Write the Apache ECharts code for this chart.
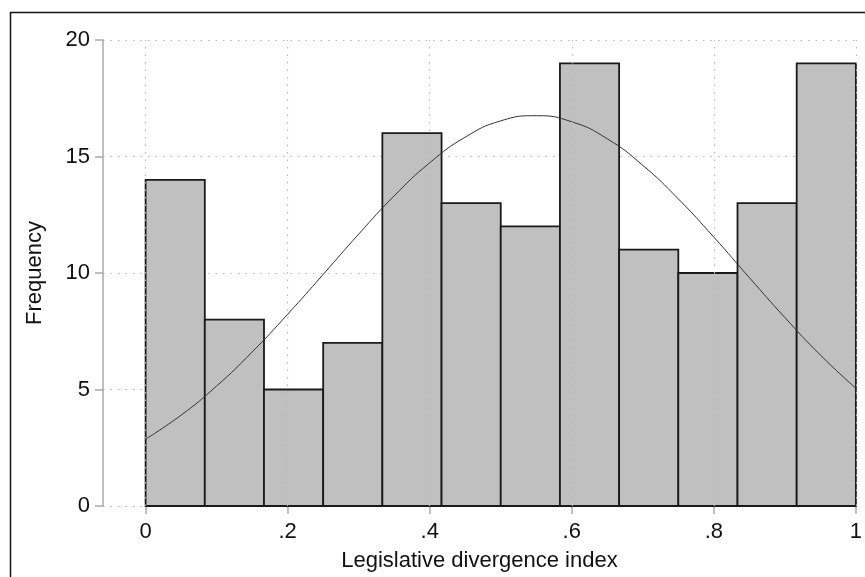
<!DOCTYPE html>
<html>
<head>
<meta charset="utf-8">
<script src="https://cdn.jsdelivr.net/npm/echarts@6/dist/echarts.min.js"></script>
<style>html,body{margin:0;padding:0;background:#fff}#c{width:865px;height:577px}</style>
</head>
<body>
<div id="c"></div>
<script>
// Histogram bins (lower edges) and frequencies
var binStarts = [0, 1/12, 2/12, 3/12, 4/12, 5/12, 6/12, 7/12, 8/12, 9/12, 10/12, 11/12];
var binWidth = 1/12;
var counts = [14, 8, 5, 7, 16, 13, 12, 19, 11, 10, 13, 19];
// Overlaid normal curve
var curveX = [0, 0.05, 0.1, 0.15, 0.2, 0.25, 0.3, 0.35, 0.4, 0.45, 0.5, 0.55, 0.6, 0.65, 0.7, 0.75, 0.8, 0.85, 0.9, 0.95, 1];
var curveY = [2.87, 3.9, 5.15, 6.61, 8.23, 9.94, 11.67, 13.31, 14.73, 15.83, 16.53, 16.75, 16.49, 15.76, 14.62, 13.18, 11.54, 9.8, 8.09, 6.48, 5.05];
var xTicks = [0, 0.2, 0.4, 0.6, 0.8, 1];
var yTicks = [0, 5, 10, 15, 20];

var FONT = 'Liberation Sans, Arial, sans-serif';
var chart = echarts.init(document.getElementById('c'), null, {renderer: 'canvas'});

var barData = binStarts.map(function (s, i) { return [s, s + binWidth, counts[i]]; });
var lineData = curveX.map(function (x, i) { return [x, curveY[i]]; });

chart.setOption({
  animation: false,
  backgroundColor: '#fff',
  graphic: [{
    type: 'rect', silent: true, z: -10,
    shape: {x: 10.5, y: 12.5, width: 870, height: 600},
    style: {fill: 'none', stroke: '#111', lineWidth: 1.5}
  }],
  grid: {left: 103, right: 5, top: 40, bottom: 70},
  xAxis: {
    type: 'value', min: -0.06, max: 1,
    name: 'Legislative divergence index', nameLocation: 'middle', nameGap: 44,
    nameTextStyle: {fontFamily: FONT, fontSize: 22, color: '#111'},
    axisLine: {show: false},
    axisTick: {show: true, customValues: xTicks, length: 8, lineStyle: {color: '#aaa', width: 1.5}},
    axisLabel: {
      show: true, customValues: xTicks, margin: 15,
      fontFamily: FONT, fontSize: 22, color: '#111',
      formatter: function (v) { return (v === 0 || v === 1) ? String(v) : String(+v.toFixed(2)).replace(/^0/, ''); }
    },
    splitLine: {show: false}
  },
  yAxis: {
    type: 'value', min: 0, max: 20, interval: 5,
    name: 'Frequency', nameLocation: 'middle', nameGap: 57, nameRotate: 90,
    nameTextStyle: {fontFamily: FONT, fontSize: 22, color: '#111'},
    axisLine: {show: true, onZero: false, lineStyle: {color: '#aaa', width: 1.5}},
    axisTick: {show: true, length: 8, lineStyle: {color: '#aaa', width: 1.5}},
    axisLabel: {margin: 13, fontFamily: FONT, fontSize: 22, color: '#111'},
    splitLine: {show: true, lineStyle: {type: [1.5, 6], color: '#b8b8b8', width: 1.2}}
  },
  series: [
    {
      type: 'scatter', data: [], z: 1, silent: true,
      markLine: {
        symbol: 'none', silent: true, label: {show: false},
        lineStyle: {type: [1.5, 6], color: '#b8b8b8', width: 1.2},
        data: xTicks.map(function (x) { return {xAxis: x}; })
      }
    },
    {
      type: 'custom', z: 2, data: barData,
      renderItem: function (params, api) {
        var p0 = api.coord([api.value(0), 0]);
        var p1 = api.coord([api.value(1), api.value(2)]);
        return {
          type: 'rect',
          shape: {x: p0[0], y: p1[1], width: p1[0] - p0[0], height: p0[1] - p1[1]},
          style: {fill: '#c0c0c0', stroke: '#1a1a1a', lineWidth: 1.8}
        };
      }
    },
    {
      type: 'line', z: 3, data: lineData, smooth: true, symbol: 'none',
      lineStyle: {color: '#333', width: 1}
    }
  ]
});
</script>
</body>
</html>
